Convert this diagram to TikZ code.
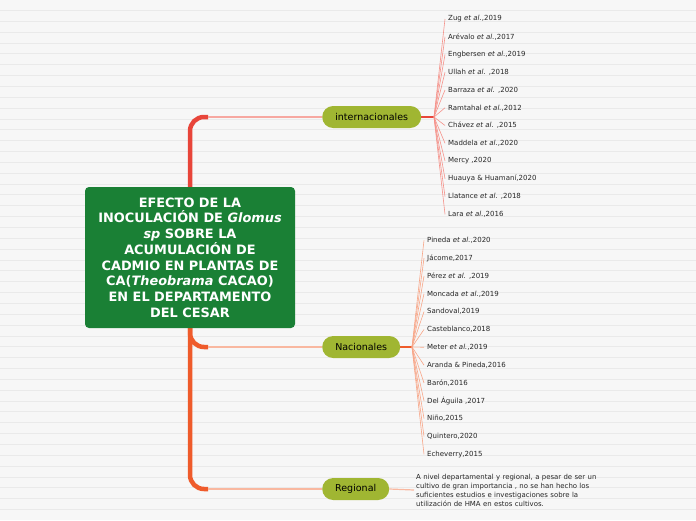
\documentclass[tikz,border=0pt]{standalone}
\usepackage{fontspec}
\setmainfont{DejaVu Sans}
\usetikzlibrary{backgrounds}
\pgfdeclarelayer{paper}
\pgfsetlayers{paper,background,main}

\definecolor{titlegreen}{HTML}{1A8035}
\definecolor{olive}{HTML}{A0B632}
\definecolor{trunkred}{HTML}{E8453A}
\definecolor{trunkorange}{HTML}{EF5B2B}
\definecolor{twigred}{HTML}{F5928A}
\definecolor{twigorange}{HTML}{F7A688}
\definecolor{paperbg}{HTML}{F7F7F7}
\definecolor{ruleline}{HTML}{EAEAEA}

\tikzset{
  branch/.style={fill=olive, rounded corners=11pt, minimum height=22pt, inner xsep=0pt, anchor=west, font=\fontsize{9.5}{11}\selectfont},
  ref/.style={anchor=west, inner xsep=3pt, inner ysep=1pt, text=black!85, font=\fontsize{7}{8}\selectfont},
}

\begin{document}
\begin{tikzpicture}[x=1pt,y=-1pt]
    \useasboundingbox (0,0) rectangle (696,520);
    \begin{pgfonlayer}{paper}
        \fill[paperbg] (0,0) rectangle (696,520);
        \foreach \k in {0,...,46}
            \draw[ruleline, line width=0.6pt] (0,{10.3+10.85*\k}) -- (696,{10.3+10.85*\k});
    \end{pgfonlayer}

    \node[fill=titlegreen, rounded corners=4pt, text=white, minimum width=210pt, minimum height=141pt, align=center, font=\bfseries\fontsize{12.9}{15.7}\selectfont] (title) at (190,257.5)
        {EFECTO DE LA\\ INOCULACIÓN DE \textit{Glomus}\\ \textit{sp} SOBRE LA\\ ACUMULACIÓN DE\\ CADMIO EN PLANTAS DE\\ CA(\textit{Theobrama} CACAO)\\ EN EL DEPARTAMENTO\\ DEL CESAR};

    \node[branch, minimum width=99pt] (inter) at (322,117) {internacionales};
    \node[branch, minimum width=78pt] (nac) at (322,347) {Nacionales};
    \node[branch, minimum width=67pt] (reg) at (322,489) {Regional};

    \coordinate (interhub) at (434,117);
    \coordinate (nachub) at (412,347);

    \foreach \txt [count=\k] in {{Zug \textit{et al.},2019}, {Arévalo \textit{et al.},2017}, {Engbersen \textit{et al.},2019}, {Ullah \textit{et al.} ,2018}, {Barraza \textit{et al.} ,2020}, {Ramtahal \textit{et al.},2012}, {Chávez \textit{et al.} ,2015}, {Maddela \textit{et al.},2020}, {Mercy ,2020}, {Huauya \& Huamaní,2020}, {Llatance \textit{et al.} ,2018}, {Lara \textit{et al.},2016}}
        \node[ref] (i\k) at (445,{19+17.75*(\k-1)}) {\txt};

    \foreach \txt [count=\k] in {{Pineda \textit{et al.},2020}, {Jácome,2017}, {Pérez \textit{et al.} ,2019}, {Moncada \textit{et al.},2019}, {Sandoval,2019}, {Casteblanco,2018}, {Meter \textit{et al.},2019}, {Aranda \& Pineda,2016}, {Barón,2016}, {Del Águila ,2017}, {Niño,2015}, {Quintero,2020}, {Echeverry,2015}}
        \node[ref] (n\k) at (424,{240.3+17.83*(\k-1)}) {\txt};

    \node[anchor=west, text width=200pt, align=left, inner sep=2pt, text=black!85, font=\fontsize{6.95}{9}\selectfont] (regtext) at (414,490)
        {A nivel departamental y regional, a pesar de ser un\\ cultivo de gran importancia , no se han hecho los\\ suficientes estudios e investigaciones sobre la\\ utilización de HMA en estos cultivos.};

    \begin{scope}[on background layer]
        % trunk
        \draw[trunkred, line width=4.5pt, rounded corners=14pt] (title.center) |- ([xshift=-114pt]inter.west);
        \draw[trunkorange, line width=4.5pt, rounded corners=14pt] (title.center) |- ([xshift=-114pt]nac.west);
        \draw[trunkorange, line width=4.5pt, rounded corners=14pt] (title.center) |- ([xshift=-114pt]reg.west);
        \draw[twigred!80, line width=1.2pt] ([xshift=-114pt]inter.west) -- (inter.west);
        \draw[twigorange!80, line width=1.2pt] ([xshift=-114pt]nac.west) -- (nac.west);
        \draw[twigorange!80, line width=1.2pt] ([xshift=-114pt]reg.west) -- (reg.west);

        % fans
        \draw[trunkred, line width=1.8pt] (inter.east) -- (interhub);
        \foreach \k in {1,...,12}
            \draw[twigred, line width=0.6pt] (interhub) -- (i\k.west);
        \draw[trunkorange, line width=1.6pt] (nac.east) -- (nachub);
        \foreach \k in {1,...,13}
            \draw[twigorange, line width=0.6pt] (nachub) -- (n\k.west);
        \draw[twigorange!80, line width=1.2pt] (reg.east) -- (regtext.west);
    \end{scope}
\end{tikzpicture}
\end{document}
